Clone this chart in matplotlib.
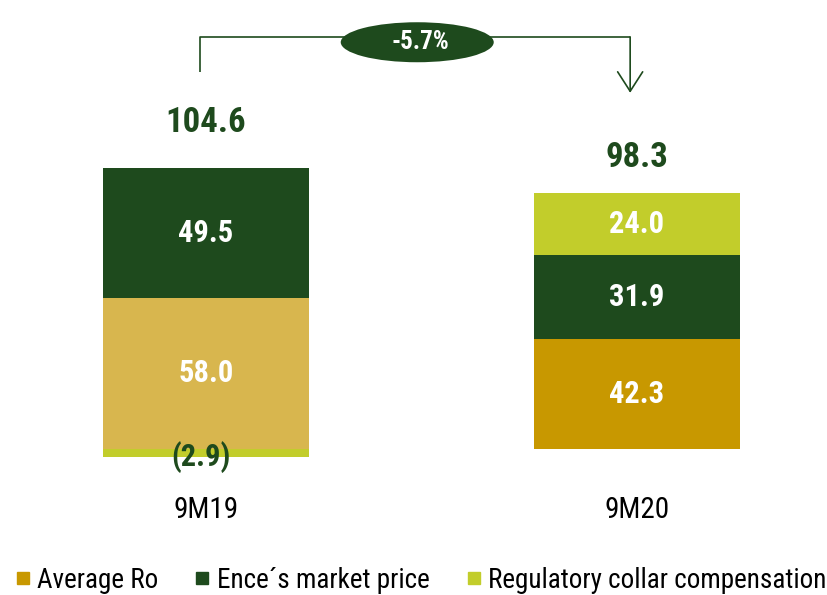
import matplotlib
matplotlib.use("Agg")
import matplotlib.pyplot as plt
from matplotlib.patches import Ellipse
from matplotlib.lines import Line2D
import numpy as np

plt.rcParams["font.family"] = ["Roboto Condensed", "DejaVu Sans"]

# data
categories = ["9M19", "9M20"]
average_ro = [58.0, 42.3]
market_price = [49.5, 31.9]
collar = [-2.9, 24.0]
totals = [104.6, 98.3]
change_label = "-5.7%"
legend_labels = ["Average Ro", "Ence\u00b4s market price", "Regulatory collar compensation"]

# styles
DARK = "#1E4A1D"
LIME = "#C2CD2B"
RO_COLORS = ["#D8B64E", "#C89800"]
total_offsets = [33, 25.5]  # points above stack top

fig = plt.figure(figsize=(8.28, 5.95), dpi=100)
ax = fig.add_axes([0, 0, 1, 1])
ax.set_xlim(-0.478, 1.443)
ax.set_ylim(-55.9, 172.0)
ax.axis("off")

x = np.arange(len(categories))
width = 0.478

# stack positives upward from zero, negatives downward
series = [(average_ro, RO_COLORS), (market_price, [DARK, DARK]), (collar, [LIME, LIME])]
pos_bottom = np.zeros(len(x))
neg_bottom = np.zeros(len(x))
for values, colors in series:
    for i, v in enumerate(values):
        if v >= 0:
            ax.bar(x[i], v, width, bottom=pos_bottom[i], color=colors[i], linewidth=0)
            ax.text(x[i], pos_bottom[i] + v / 2, f"{v:.1f}", ha="center", va="center",
                    color="white", fontsize=22, fontweight="bold")
            pos_bottom[i] += v
        else:
            ax.bar(x[i], v, width, bottom=neg_bottom[i], color=colors[i], linewidth=0)
            ax.annotate(f"({abs(v):.1f})", xy=(x[i], neg_bottom[i] + v), xytext=(-4, 0),
                        textcoords="offset points", ha="center", va="center",
                        color=DARK, fontsize=22, fontweight="bold")
            neg_bottom[i] += v

# totals and category labels
for i in range(len(x)):
    ax.annotate(f"{totals[i]:.1f}", xy=(x[i], pos_bottom[i]), xytext=(0, total_offsets[i]),
                textcoords="offset points", ha="center", va="center",
                color=DARK, fontsize=25, fontweight="bold")
    ax.annotate(categories[i], xy=(x[i], 0), xytext=(0, -44), textcoords="offset points",
                ha="center", va="center", color="black", fontsize=21)

# change bracket
tr = ax.get_xaxis_transform()
xl, xr = x[0] - 0.014, x[1] - 0.016
y_top, y_left, y_right = 0.938, 0.879, 0.844
ax.plot([xl, xl, xr], [y_left, y_top, y_top], color=DARK, lw=1.2, transform=tr,
        solid_capstyle="butt")
ax.annotate("", xy=(xr, y_right), xytext=(xr, y_top), xycoords=tr, textcoords=tr,
            arrowprops=dict(arrowstyle="->,head_length=1.4,head_width=0.9",
                            color=DARK, lw=1.2, shrinkA=0, shrinkB=0))
xm = (x[0] + x[1]) / 2 - 0.01
ell = Ellipse((xm, 0.929), width=153 / 431, height=40 / 595, transform=tr,
              facecolor=DARK, edgecolor="none", zorder=3)
ax.add_patch(ell)
ax.text(xm + 0.007, 0.929, change_label, transform=tr, ha="center", va="center",
        color="white", fontsize=18, fontweight="bold", zorder=4)

# legend
handles = [Line2D([], [], marker="s", linestyle="none", markersize=9, color=c)
           for c in [RO_COLORS[1], DARK, LIME]]
ax.legend(handles, legend_labels, loc="center left", bbox_to_anchor=(0.019, 0.025),
          ncol=3, frameon=False, fontsize=19.5, handlelength=0.5, handletextpad=0.3,
          columnspacing=1.36, borderpad=0, borderaxespad=0)

fig.savefig("out.png", dpi=100)
